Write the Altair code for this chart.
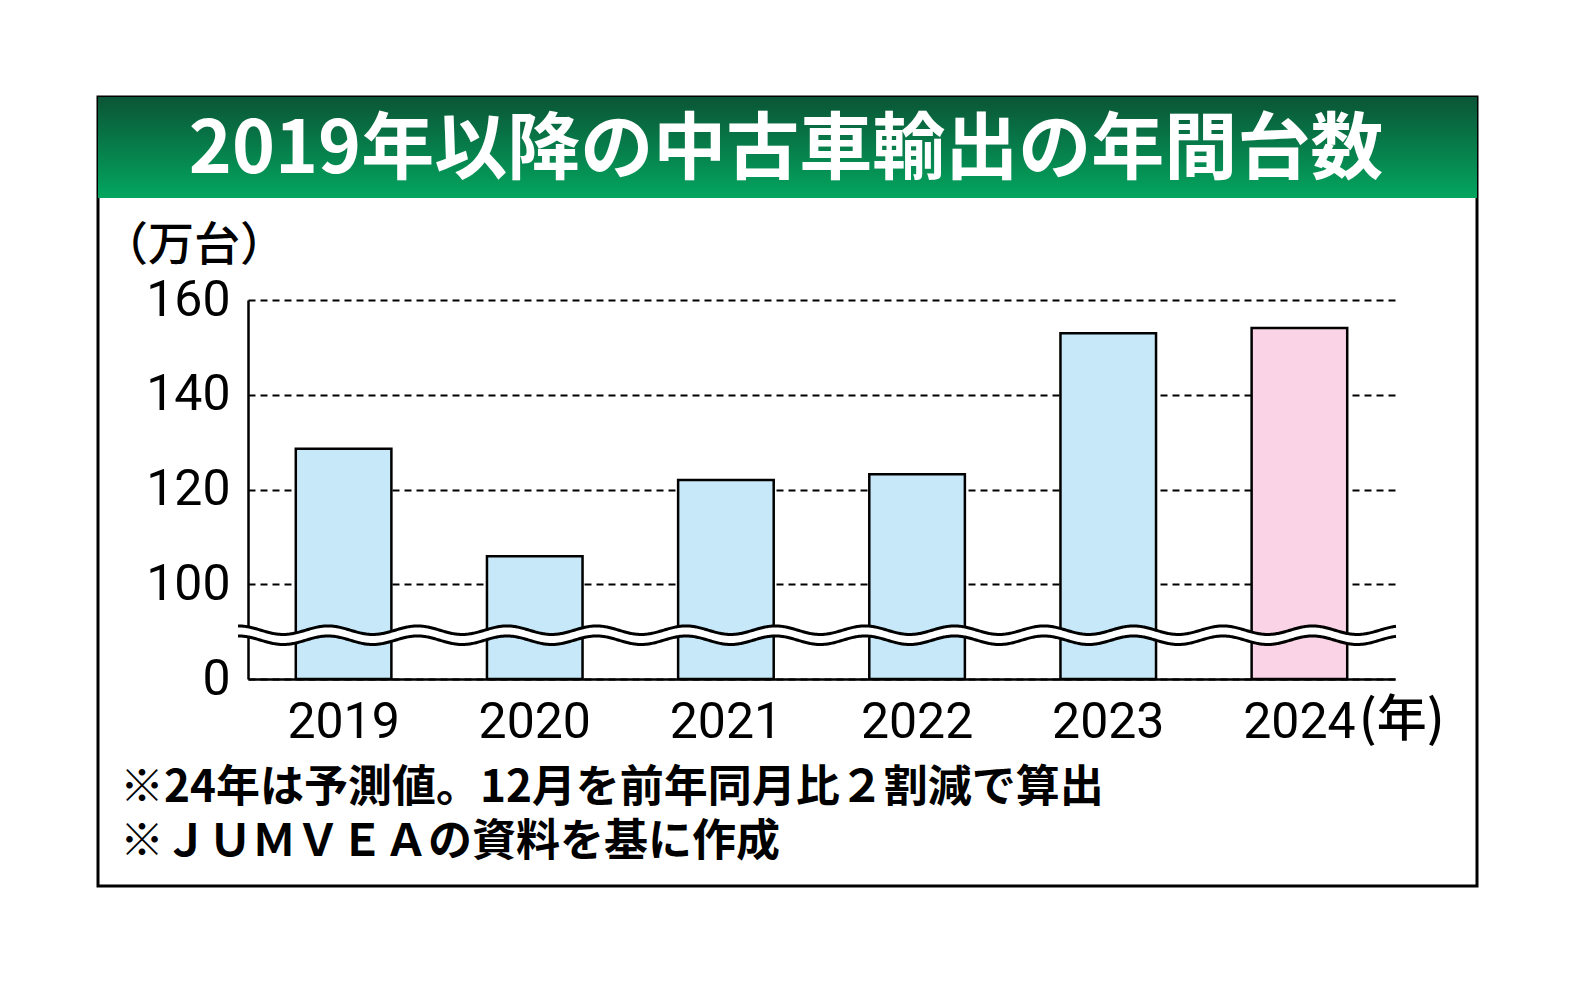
import altair as alt
import pandas as pd

# ---- data ----
years = ["2019", "2020", "2021", "2022", "2023", "2024"]
values = [128.6, 105.9, 122.0, 123.2, 153.0, 154.1]   # 万台
series = ["実績", "実績", "実績", "実績", "実績", "予測"]
series_order = ["実績", "予測"]
series_colors = ["#c6e8f9", "#fbd3e6"]
y_ticks = [80, 100, 120, 140, 160]          # 80 sits at the broken-axis "0"
y_tick_labels = ["0", "100", "120", "140", "160"]
title_text = "2019年以降の中古車輸出の年間台数"
y_unit_text = "（万台）"
x_unit_text = "(年)"
notes = ["※24年は予測値。12月を前年同月比２割減で算出", "※ＪＵＭＶＥＡの資料を基に作成"]

W, H = 1147, 379
DIGIT_FONT = "Roboto"
JP_FONT = "Noto Sans CJK JP"

df = pd.DataFrame({"year": years, "value": values, "series": series})

label_expr = " : ".join(
    f"datum.value == {v} ? '{l}'" for v, l in zip(y_ticks, y_tick_labels)
) + " : datum.label"

y_scale = alt.Scale(domain=[y_ticks[0], y_ticks[-1]], nice=False, zero=False)

bars = alt.Chart(df).mark_bar(stroke="black", strokeWidth=2.5).encode(
    x=alt.X(
        "year:N", sort=years,
        scale=alt.Scale(paddingInner=0.5, paddingOuter=0.25),
        axis=alt.Axis(title=None, labelAngle=0, labelFont=DIGIT_FONT, labelFontSize=50,
                      labelColor="black", labelPadding=18, ticks=False,
                      domainColor="black", domainWidth=2.5),
    ),
    y=alt.Y(
        "value:Q", scale=y_scale,
        axis=alt.Axis(values=y_ticks, labelExpr=label_expr, title=None, ticks=False,
                      labelFont=DIGIT_FONT, labelFontSize=50, labelColor="black",
                      labelPadding=18, domainColor="black", domainWidth=2.5,
                      grid=True, gridColor="black", gridDash=[7, 5], gridWidth=2),
    ),
    y2=alt.datum(y_ticks[0]),
    fill=alt.Fill("series:N", scale=alt.Scale(domain=series_order, range=series_colors), legend=None),
)

# ---- broken-axis wave decoration ----
wave_base = alt.Chart(alt.sequence(-10, W + 2, 1, as_="px")).transform_calculate(
    top="90.3 + 0.9 * cos(2 * PI * (datum.px - 80) / 89.5)"
).transform_calculate(bottom="datum.top - 2.12")
wx = alt.X("px:Q", scale=alt.Scale(domain=[0, W], nice=False, zero=False), axis=None)
wave_fill = wave_base.mark_area(color="white").encode(
    x=wx, y=alt.Y("top:Q", scale=y_scale, title=None), y2="bottom:Q")
wave_top = wave_base.mark_line(color="black", strokeWidth=3).encode(
    x=wx, y=alt.Y("top:Q", scale=y_scale, title=None))
wave_bot = wave_base.mark_line(color="black", strokeWidth=3).encode(
    x=wx, y=alt.Y("bottom:Q", scale=y_scale, title=None))

# ---- frame, banner and texts ----
one = pd.DataFrame({"k": [0]})
gradient = alt.Gradient(
    gradient="linear",
    stops=[alt.GradientStop(color="#0b5536", offset=0), alt.GradientStop(color="#03a65f", offset=1)],
    x1=0, x2=0, y1=0, y2=1,
)
frame = alt.Chart(one).mark_rect(filled=False, stroke="black", strokeWidth=3).encode(
    x=alt.value(-150), x2=alt.value(1229), y=alt.value(-203), y2=alt.value(586))
banner = alt.Chart(one).mark_rect(fill=gradient).encode(
    x=alt.value(-150), x2=alt.value(1229), y=alt.value(-203), y2=alt.value(-102))
title = alt.Chart(one).mark_text(
    text=title_text, font=JP_FONT, fontSize=73, fontWeight="bold", color="white",
    align="center", baseline="middle").encode(x=alt.value(538), y=alt.value(-149))
y_unit = alt.Chart(one).mark_text(
    text=y_unit_text, font=JP_FONT, fontSize=46, fontWeight=500, color="black",
    align="left", baseline="middle").encode(x=alt.value(-146), y=alt.value(-54))
x_unit = alt.Chart(one).mark_text(
    text=x_unit_text, font=JP_FONT, fontSize=50, fontWeight=500, color="black",
    align="left", baseline="middle").encode(x=alt.value(1111), y=alt.value(421))
note_block = alt.Chart(one).mark_text(
    text=notes, font=JP_FONT, fontSize=44, fontWeight="bold", color="black",
    lineHeight=54, align="left", baseline="middle").encode(
    x=alt.value(-128), y=alt.value(489))

chart = alt.layer(
    frame, banner, title, y_unit, x_unit, note_block,
    bars, wave_fill, wave_top, wave_bot,
).resolve_scale(x="independent").properties(
    width=W, height=H,
    autosize=alt.AutoSizeParams(type="none"),
    padding={"left": 240, "top": 292, "right": 120, "bottom": 240},
).configure_view(strokeWidth=0)

chart.save("out.html", embed_options={"renderer": "svg", "actions": False})
